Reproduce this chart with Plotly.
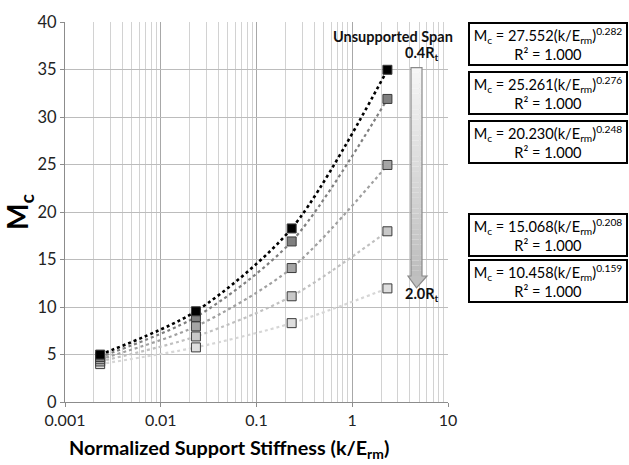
import plotly.graph_objects as go

# ---- data ----
stiffness = [0.00233, 0.0233, 0.233, 2.33]
series_names = ["0.4Rt", "0.6Rt", "1.0Rt", "1.5Rt", "2.0Rt"]
mc_values = [
    [4.99, 9.55, 18.27, 34.97],
    [4.74, 8.95, 16.90, 31.90],
    [4.50, 7.96, 14.10, 24.95],
    [4.27, 6.90, 11.13, 17.97],
    [3.99, 5.75, 8.30, 11.96],
]
marker_colors = ["#000000", "#7f7f7f", "#a5a5a5", "#c8c8c8", "#dedede"]
line_colors = ["#000000", "#7f7f7f", "#a0a0a0", "#c0c0c0", "#d6d6d6"]
fit_labels = [
    "M<sub>c</sub> = 27.552(k/E<sub>rm</sub>)<sup>0.282</sup><br>R² = 1.000",
    "M<sub>c</sub> = 25.261(k/E<sub>rm</sub>)<sup>0.276</sup><br>R² = 1.000",
    "M<sub>c</sub> = 20.230(k/E<sub>rm</sub>)<sup>0.248</sup><br>R² = 1.000",
    "M<sub>c</sub> = 15.068(k/E<sub>rm</sub>)<sup>0.208</sup><br>R² = 1.000",
    "M<sub>c</sub> = 10.458(k/E<sub>rm</sub>)<sup>0.159</sup><br>R² = 1.000",
]
x_tick_vals = [0.001, 0.01, 0.1, 1, 10]
x_tick_text = ["0.001", "0.01", "0.1", "1", "10"]
x_title = "<b>Normalized Support Stiffness (k/E<sub>rm</sub>)</b>"
y_title = "<b>M<sub>c</sub></b>"

FONT = "Lato"
W, H = 629, 465
L, R, T, B = 65, 448, 19, 402


def px(x):
    return (x - L) / (R - L)


def py(y):
    return (B - y) / (B - T)


fig = go.Figure()

# dotted trend lines (drawn lightest first so black is on top)
for i in reversed(range(len(mc_values))):
    fig.add_trace(go.Scatter(
        x=stiffness, y=mc_values[i], mode="lines",
        line=dict(color=line_colors[i], width=2.6 if i == 0 else 2.2,
                  dash="dot", shape="spline", smoothing=0.8),
        hoverinfo="skip", showlegend=False))

for i in reversed(range(len(mc_values))):
    fig.add_trace(go.Scatter(
        x=stiffness, y=mc_values[i], mode="markers", name=series_names[i],
        marker=dict(symbol="square", size=9, color=marker_colors[i],
                    line=dict(color="#3a3a3a", width=1)),
        showlegend=False))

# ---- gradient arrow ----
shaft_l, shaft_r = 411, 422
shaft_top, head_y, tip_y = 65, 275, 287
head_l, head_r = 408, 427
n = 40
shapes = []
for k in range(n):
    y0 = shaft_top + (head_y - shaft_top) * k / n
    y1 = shaft_top + (head_y - shaft_top) * (k + 1) / n
    t = k / (n - 1)
    c = int(246 - t * (246 - 190))
    shapes.append(dict(type="rect", xref="paper", yref="paper",
                       x0=px(shaft_l), x1=px(shaft_r), y0=py(y1), y1=py(y0),
                       fillcolor=f"rgb({c},{c},{c})", line=dict(width=0), layer="above"))
outline = (f"M {px(shaft_l)},{py(shaft_top)} L {px(shaft_r)},{py(shaft_top)} "
           f"L {px(shaft_r)},{py(head_y)} L {px(head_r)},{py(head_y)} "
           f"L {px((shaft_l + shaft_r) / 2)},{py(tip_y)} L {px(head_l)},{py(head_y)} "
           f"L {px(shaft_l)},{py(head_y)} Z")
head = (f"M {px(head_l)},{py(head_y)} L {px(head_r)},{py(head_y)} "
        f"L {px((shaft_l + shaft_r) / 2)},{py(tip_y)} Z")
shapes.append(dict(type="path", xref="paper", yref="paper", path=head,
                   fillcolor="rgb(192,192,192)", line=dict(width=0), layer="above"))
shapes.append(dict(type="path", xref="paper", yref="paper", path=outline,
                   fillcolor="rgba(0,0,0,0)", line=dict(color="#8a8a8a", width=1.2), layer="above"))

lab_font = dict(size=14.5, color="#111", family=FONT)
annotations = [
    dict(text="<b>Unsupported Span</b>", xref="paper", yref="paper",
         x=px(393), y=py(34), xanchor="center", yanchor="middle",
         showarrow=False, font=lab_font),
    dict(text="<b>0.4R<sub>t</sub></b>", xref="paper", yref="paper",
         x=px(422), y=py(51), xanchor="center", yanchor="middle",
         showarrow=False, font=lab_font),
    dict(text="<b>2.0R<sub>t</sub></b>", xref="paper", yref="paper",
         x=px(422), y=py(294), xanchor="center", yanchor="middle",
         showarrow=False, font=lab_font),
    dict(text=x_title, xref="paper", yref="paper",
         x=px(229), y=py(449), xanchor="center", yanchor="middle",
         showarrow=False, font=dict(size=19.8, family=FONT, color="#000")),
]
box_centers = [41.5, 90.5, 140, 233.5, 280]
for lab, cy in zip(fit_labels, box_centers):
    annotations.append(dict(
        text=lab, xref="paper", yref="paper", x=px(547.5), y=py(cy),
        xanchor="center", yanchor="middle", showarrow=False,
        width=154, height=38, align="center", valign="middle",
        bordercolor="#000", borderwidth=2, borderpad=1, bgcolor="white",
        font=dict(size=14.6, color="#000", family=FONT)))

fig.update_layout(
    width=W, height=H,
    margin=dict(l=L, r=W - R, t=T, b=H - B),
    paper_bgcolor="white", plot_bgcolor="white",
    font=dict(family=FONT, color="#222"),
    shapes=shapes, annotations=annotations,
    xaxis=dict(type="log", range=[-3, 1], tickvals=x_tick_vals, ticktext=x_tick_text,
               showgrid=True, gridcolor="#a8a8a8", gridwidth=1,
               minor=dict(dtick="D1", showgrid=True, gridcolor="#d2d2d2", gridwidth=1),
               showline=True, linecolor="#8c8c8c", linewidth=1,
               ticks="outside", ticklen=4, tickcolor="#8c8c8c",
               tickfont=dict(size=16, family=FONT, color="#222"), zeroline=False),
    yaxis=dict(range=[0, 40], dtick=5, showgrid=True, gridcolor="#bcbcbc", gridwidth=1,
               showline=True, linecolor="#8c8c8c", linewidth=1,
               ticks="outside", ticklen=4, tickcolor="#8c8c8c",
               tickfont=dict(size=16.5, family=FONT, color="#222"), zeroline=False,
               title=dict(text=y_title,
                          font=dict(size=28, family=FONT, color="#000"), standoff=6)),
)

fig.write_html("out.html")
